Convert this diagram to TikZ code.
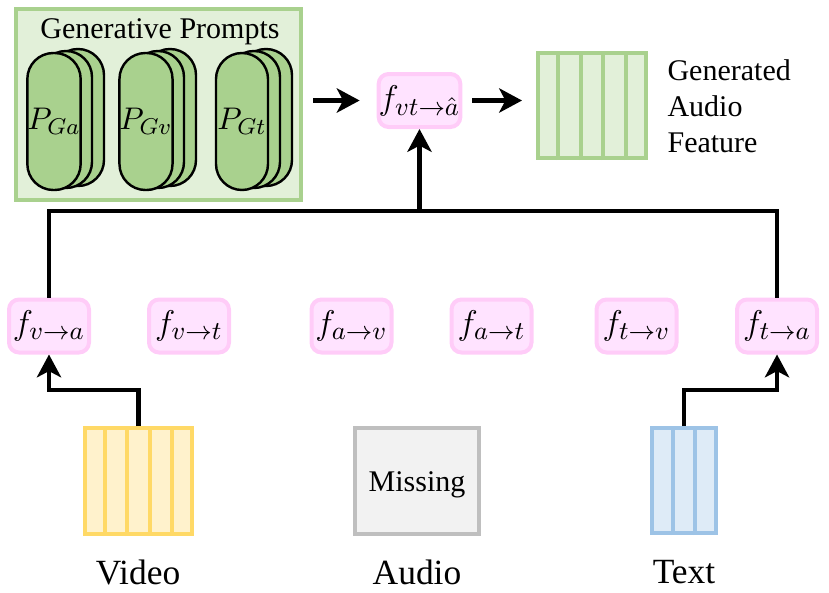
\documentclass[tikz,border=0pt]{standalone}
\usepackage{fontspec}
\setmainfont{Liberation Serif}
\usetikzlibrary{arrows.meta,calc}
\definecolor{gfill}{HTML}{E2F0D9}
\definecolor{gline}{HTML}{A9D18E}
\definecolor{yfill}{HTML}{FFF2CC}
\definecolor{yline}{HTML}{FFD966}
\definecolor{afill}{HTML}{F2F2F2}
\definecolor{aline}{HTML}{BFBFBF}
\definecolor{bfill}{HTML}{DEEBF7}
\definecolor{bline}{HTML}{9DC3E6}
\definecolor{pfill}{HTML}{FFE3FF}
\definecolor{pline}{HTML}{FFCCF8}
\begin{document}
\begin{tikzpicture}[x=0.35pt,y=-0.35pt,
  fbox/.style={draw=pline,fill=pfill,line width=1.4pt,rounded corners=3.5pt,
    minimum width=80*0.35pt,minimum height=53*0.35pt,inner sep=0pt,font=\fontsize{12.5}{14}\selectfont},
  capsule/.style={draw=black,fill=gline,line width=0.85pt,rounded corners=9.1pt,
    minimum width=52*0.35pt,minimum height=137*0.35pt,inner sep=0pt},
  feat/.style={line width=1.4pt,inner sep=0pt},
  conn/.style={line width=1.5pt,draw=black},
  arr/.style={conn,-{Stealth[length=8pt,width=8.5pt,inset=2.2pt]}},
  lbl/.style={font=\fontsize{12.4}{14}\selectfont,inner sep=0pt}
]
\useasboundingbox (0,0) rectangle (829,592);

% Generative prompts box
\node[draw=gline,fill=gfill,line width=1.4pt,minimum width=285*0.35pt,minimum height=191*0.35pt,inner sep=0pt] (gp) at (158.5,104.5) {};
\node[font=\fontsize{10.5}{12}\selectfont,inner sep=0pt] (gptitle) at (160,32) {Generative Prompts};

% capsules group 1
\node[capsule] (pa3) at (78,117.5) {};
\node[capsule] (pa2) at (66,119.5) {};
\node[capsule,font=\fontsize{11}{13}\selectfont] (pa1) at (54,121.5) {$P_{Ga}$};
% group 2
\node[capsule] (pv3) at (170,117.5) {};
\node[capsule] (pv2) at (158,119.5) {};
\node[capsule,font=\fontsize{11}{13}\selectfont] (pv1) at (146,121.5) {$P_{Gv}$};
% group 3
\node[capsule] (pt3) at (266,117.5) {};
\node[capsule] (pt2) at (254,119.5) {};
\node[capsule,font=\fontsize{11}{13}\selectfont] (pt1) at (242,121.5) {$P_{Gt}$};

% fusion node
\node[fbox] (fvt) at (419.5,100.5) {$f_{vt\to\hat{a}}$};

% generated feature
\node[feat,draw=gline,fill=gfill,minimum width=108*0.35pt,minimum height=105*0.35pt] (gen) at (592,105.5) {};
\foreach \k in {1,...,4}
  \draw[gline,line width=1.4pt] ($(gen.south west)!\k/5!(gen.south east)$) -- ($(gen.north west)!\k/5!(gen.north east)$);
\node[font=\fontsize{10.5}{12.6}\selectfont,align=left,anchor=west,inner sep=0pt] (genlbl) at (667,106) {Generated\\Audio\\Feature};

% f nodes
\node[fbox] (fva) at (49,326) {$f_{v\to a}$};
\node[fbox] (fvtt) at (189,326) {$f_{v\to t}$};
\node[fbox] (fav) at (351.5,326) {$f_{a\to v}$};
\node[fbox] (fat) at (491.5,326) {$f_{a\to t}$};
\node[fbox] (ftv) at (636.5,326) {$f_{t\to v}$};
\node[fbox] (fta) at (777,326) {$f_{t\to a}$};

% modalities
\node[feat,draw=yline,fill=yfill,minimum width=107*0.35pt,minimum height=106*0.35pt] (video) at (138.5,481) {};
\foreach \k in {1,...,4}
  \draw[yline,line width=1.4pt] ($(video.south west)!\k/5!(video.south east)$) -- ($(video.north west)!\k/5!(video.north east)$);
\node[feat,draw=aline,fill=afill,minimum width=124*0.35pt,minimum height=106*0.35pt] (audio) at (417,481) {};
\node[font=\fontsize{10.5}{12}\selectfont,inner sep=0pt] (misslbl) at (417,485) {Missing};
\node[feat,draw=bline,fill=bfill,minimum width=64*0.35pt,minimum height=105*0.35pt] (txt) at (684,480.5) {};
\foreach \k in {1,2}
  \draw[bline,line width=1.4pt] ($(txt.south west)!\k/3!(txt.south east)$) -- ($(txt.north west)!\k/3!(txt.north east)$);

\node[lbl] (vlbl) at (138,572) {Video};
\node[lbl] (albl) at (417,572) {Audio};
\node[lbl] (tlbl) at (684,572) {Text};

% connectors
\coordinate (bus) at (419.5,211);
\draw[conn] (fva.north) -- (fva.north |- bus) -- (fta.north |- bus) -- (fta.north);
\draw[arr] (bus) -- (fvt.south);
\draw[arr] ([xshift=10*0.35pt]gp.east |- fvt.west) -- ([xshift=-17*0.35pt]fvt.west);
\draw[arr] ([xshift=10*0.35pt]fvt.east) -- ([xshift=-14*0.35pt]gen.west |- fvt.east);
\draw[arr] (video.north) -- ++(0,-36) -| (fva.south);
\draw[arr] (txt.north) -- ++(0,-36) -| (fta.south);
\end{tikzpicture}
\end{document}
